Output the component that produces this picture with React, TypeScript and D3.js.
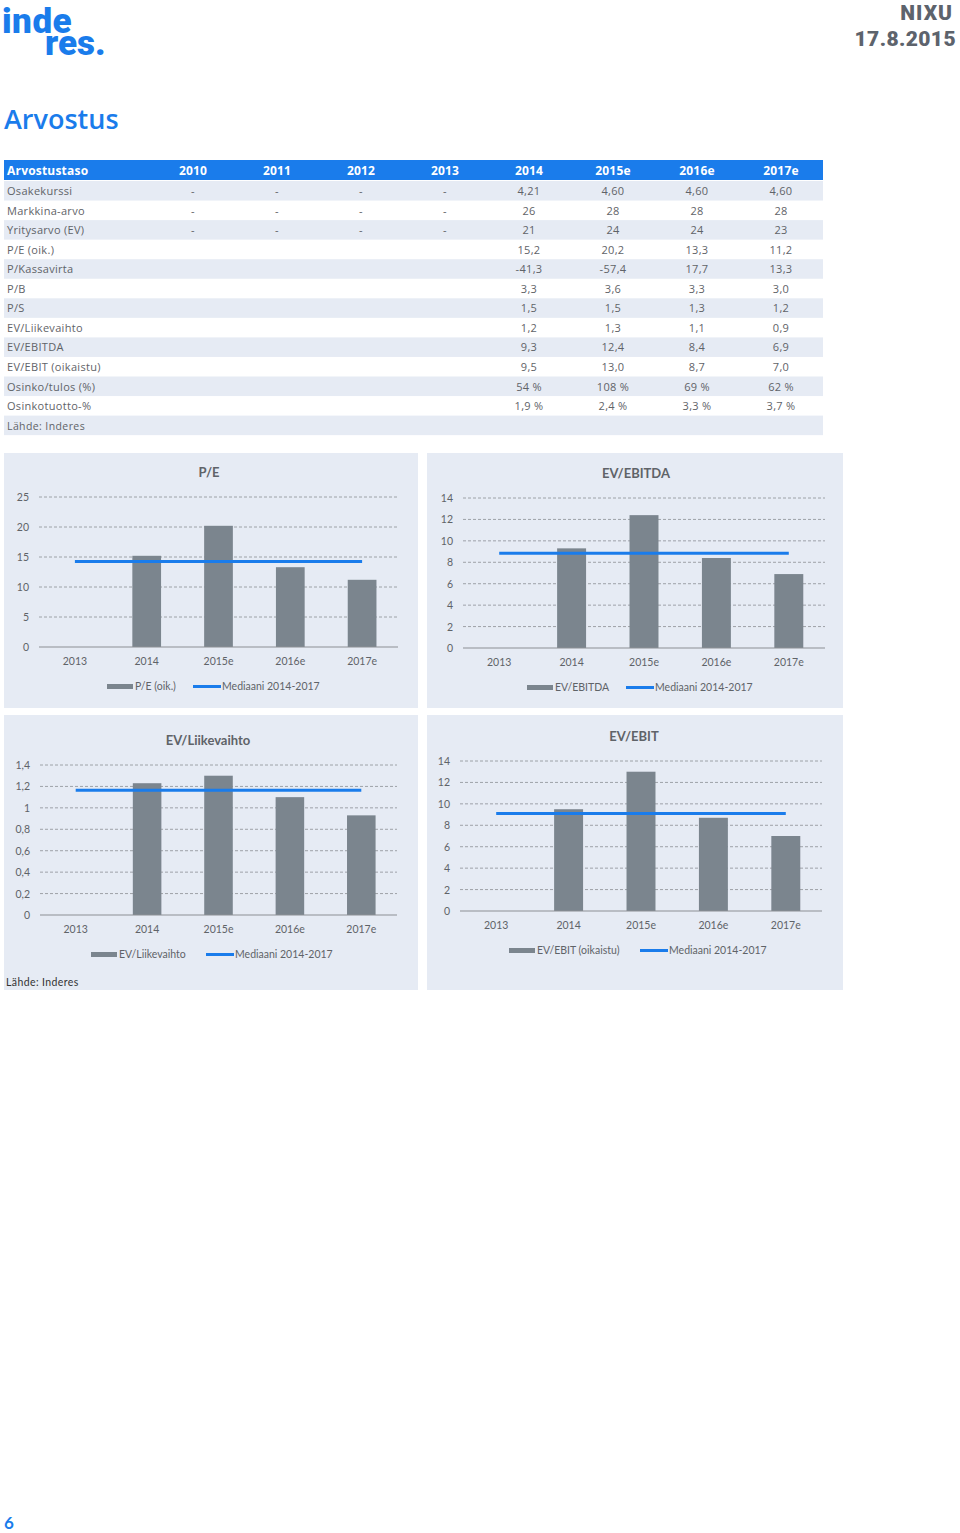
import React from "react";
import * as d3 from "d3";

// ---------- data ----------
const tableYears = ["2010", "2011", "2012", "2013", "2014", "2015e", "2016e", "2017e"];
const rowLabels = [
  "Osakekurssi",
  "Markkina-arvo",
  "Yritysarvo (EV)",
  "P/E (oik.)",
  "P/Kassavirta",
  "P/B",
  "P/S",
  "EV/Liikevaihto",
  "EV/EBITDA",
  "EV/EBIT (oikaistu)",
  "Osinko/tulos (%)",
  "Osinkotuotto-%",
];
const rowValues = [
  ["-", "-", "-", "-", "4,21", "4,60", "4,60", "4,60"],
  ["-", "-", "-", "-", "26", "28", "28", "28"],
  ["-", "-", "-", "-", "21", "24", "24", "23"],
  ["", "", "", "", "15,2", "20,2", "13,3", "11,2"],
  ["", "", "", "", "-41,3", "-57,4", "17,7", "13,3"],
  ["", "", "", "", "3,3", "3,6", "3,3", "3,0"],
  ["", "", "", "", "1,5", "1,5", "1,3", "1,2"],
  ["", "", "", "", "1,2", "1,3", "1,1", "0,9"],
  ["", "", "", "", "9,3", "12,4", "8,4", "6,9"],
  ["", "", "", "", "9,5", "13,0", "8,7", "7,0"],
  ["", "", "", "", "54 %", "108 %", "69 %", "62 %"],
  ["", "", "", "", "1,9 %", "2,4 %", "3,3 %", "3,7 %"],
];

const chartYears = ["2013", "2014", "2015e", "2016e", "2017e"];
const peValues: (number | null)[] = [null, 15.2, 20.2, 13.3, 11.2];
const evEbitdaValues: (number | null)[] = [null, 9.3, 12.4, 8.4, 6.9];
const evSalesValues: (number | null)[] = [null, 1.23, 1.3, 1.1, 0.93];
const evEbitValues: (number | null)[] = [null, 9.5, 13.0, 8.7, 7.0];
const peTicks = [0, 5, 10, 15, 20, 25];
const evEbitdaTicks = [0, 2, 4, 6, 8, 10, 12, 14];
const evSalesTicks = [0, 0.2, 0.4, 0.6, 0.8, 1, 1.2, 1.4];
const evEbitTicks = [0, 2, 4, 6, 8, 10, 12, 14];
const medianLabel = "Mediaani 2014-2017";

// ---------- style ----------
const BLUE = "#1a7ceb";
const BAR = "#7b858e";
const PANEL = "#e6ebf4";
const TEXT = "#5f6368";
const FONT = "Lato, 'Open Sans', sans-serif";
const TFONT = "'Open Sans', Lato, sans-serif";
const HEAVY = "Roboto, 'Open Sans', sans-serif";

const fmt = (v: number) => String(+v.toFixed(2)).replace(".", ",");

type ChartCfg = {
  title: string;
  seriesLabel: string;
  values: (number | null)[];
  ticks: number[];
  panel: [number, number, number, number];
  left: number;
  right: number;
  top: number;
  bottom: number;
  legendX: number;
  legendLineX: number;
  titleX: number;
};

const charts: ChartCfg[] = [
  {
    title: "P/E",
    seriesLabel: "P/E (oik.)",
    values: peValues,
    ticks: peTicks,
    panel: [4, 453, 414, 255],
    left: 39,
    right: 398,
    top: 497,
    bottom: 647,
    legendX: 107,
    legendLineX: 193,
    titleX: 209,
  },
  {
    title: "EV/EBITDA",
    seriesLabel: "EV/EBITDA",
    values: evEbitdaValues,
    ticks: evEbitdaTicks,
    panel: [427, 453, 416, 255],
    left: 463,
    right: 825,
    top: 498,
    bottom: 648,
    legendX: 527,
    legendLineX: 626,
    titleX: 636,
  },
  {
    title: "EV/Liikevaihto",
    seriesLabel: "EV/Liikevaihto",
    values: evSalesValues,
    ticks: evSalesTicks,
    panel: [4, 715, 414, 275],
    left: 40,
    right: 397,
    top: 765,
    bottom: 915,
    legendX: 91,
    legendLineX: 206,
    titleX: 208,
  },
  {
    title: "EV/EBIT",
    seriesLabel: "EV/EBIT (oikaistu)",
    values: evEbitValues,
    ticks: evEbitTicks,
    panel: [427, 715, 416, 275],
    left: 460,
    right: 822,
    top: 761,
    bottom: 911,
    legendX: 509,
    legendLineX: 640,
    titleX: 634,
  },
];

function BarChart({ c }: { c: ChartCfg }) {
  const x = d3.scaleBand<string>().domain(chartYears).range([c.left, c.right]).padding(0);
  const maxT = d3.max(c.ticks) as number;
  const y = d3.scaleLinear().domain([0, maxT]).range([c.bottom, c.top]);
  const bw = x.bandwidth() * 0.4;
  const vals = c.values.filter((v) => v != null) as number[];
  const med = d3.median(vals) as number;
  const cx = (k: string) => (x(k) as number) + x.bandwidth() / 2;
  const [px, py, pw, ph] = c.panel;
  return (
    <g>
      <rect x={px} y={py} width={pw} height={ph} fill={PANEL} />
      <text x={c.titleX} y={c.top - 20} textAnchor="middle" fontSize={13} fontWeight={700} fill={TEXT}>
        {c.title}
      </text>
      {c.ticks.map((t) => (
        <g key={t}>
          {t !== 0 && (
            <line
              x1={c.left}
              x2={c.right}
              y1={y(t)}
              y2={y(t)}
              stroke="#8c8f94"
              strokeWidth={0.8}
              strokeDasharray="3,2"
            />
          )}
          <text x={c.left - 10} y={y(t) + 4} textAnchor="end" fontSize={10.5} fill={TEXT}>
            {fmt(t)}
          </text>
        </g>
      ))}
      {chartYears.map((k, i) => {
        const v = c.values[i];
        return (
          <g key={k}>
            {v != null && (
              <rect x={cx(k) - bw / 2} y={y(v)} width={bw} height={y(0) - y(v)} fill={BAR} />
            )}
            <text x={cx(k)} y={c.bottom + 18} textAnchor="middle" fontSize={10.5} fill={TEXT}>
              {k}
            </text>
          </g>
        );
      })}
      <line x1={c.left} x2={c.right} y1={y(0)} y2={y(0)} stroke="#8c8f94" strokeWidth={1} />
      <line
        x1={cx(chartYears[0])}
        x2={cx(chartYears[chartYears.length - 1])}
        y1={y(med)}
        y2={y(med)}
        stroke={BLUE}
        strokeWidth={3}
      />
      <rect x={c.legendX} y={c.bottom + 37} width={26} height={5} fill={BAR} />
      <text x={c.legendX + 28} y={c.bottom + 43} fontSize={10.5} fill={TEXT}>
        {c.seriesLabel}
      </text>
      <line
        x1={c.legendLineX}
        x2={c.legendLineX + 28}
        y1={c.bottom + 39.5}
        y2={c.bottom + 39.5}
        stroke={BLUE}
        strokeWidth={3}
      />
      <text x={c.legendLineX + 29} y={c.bottom + 43} fontSize={10.5} fill={TEXT}>
        {medianLabel}
      </text>
    </g>
  );
}

export default function App() {
  const colX = d3
    .scalePoint<string>()
    .domain(tableYears)
    .range([193, 781]);
  const headerY = 160;
  const headerH = 20;
  const rowH = 19.55;
  const rows = rowLabels.length;
  return (
    <div style={{ position: "absolute", left: 0, top: 0, width: 960, height: 1533, background: "#fff" }}>
      <svg width={960} height={1533} style={{ display: "block", fontFamily: FONT }}>
        {/* logo */}
        <text x={2} y={33} fontSize={35} fontWeight={900} fill={BLUE} letterSpacing={0.5} fontFamily={HEAVY}>
          inde
        </text>
        <text x={45} y={55} fontSize={35} fontWeight={900} fill={BLUE} letterSpacing={0} fontFamily={HEAVY}>
          res.
        </text>
        {/* company / date */}
        <text x={953} y={20} textAnchor="end" fontSize={21} fontWeight={900} fill="#5d636c" letterSpacing={1} fontFamily={HEAVY}>
          NIXU
        </text>
        <text x={956} y={46} textAnchor="end" fontSize={21} fontWeight={900} fill="#5d636c" letterSpacing={0.4} fontFamily={HEAVY}>
          17.8.2015
        </text>
        {/* section title */}
        <text x={4} y={129} fontSize={27} fontWeight={600} fill={BLUE} fontFamily={TFONT}>
          Arvostus
        </text>

        {/* table */}
        <g fontFamily={TFONT}>
          <rect x={4} y={headerY} width={819} height={headerH} fill={BLUE} />
          <text x={7} y={headerY + 14.5} fontSize={12} fontWeight={700} fill="#fff" letterSpacing={0.2}>
            Arvostustaso
          </text>
          {tableYears.map((yr) => (
            <text
              key={yr}
              x={colX(yr)}
              y={headerY + 14.5}
              textAnchor="middle"
              fontSize={12}
              fontWeight={700}
              fill="#fff"
              letterSpacing={0.2}
            >
              {yr}
            </text>
          ))}
          {rowLabels.map((lab, i) => {
            const ry = headerY + headerH + 1 + i * rowH;
            return (
              <g key={lab}>
                {i % 2 === 0 && <rect x={4} y={ry} width={819} height={rowH} fill={PANEL} />}
                <text x={7} y={ry + 14} fontSize={11} fill={TEXT} letterSpacing={0.3}>
                  {lab}
                </text>
                {rowValues[i].map((v, j) => (
                  <text
                    key={j}
                    x={colX(tableYears[j])}
                    y={ry + 14}
                    textAnchor="middle"
                    fontSize={11}
                    fill={TEXT}
                    letterSpacing={0.3}
                  >
                    {v}
                  </text>
                ))}
              </g>
            );
          })}
          <rect x={4} y={headerY + headerH + 1 + rows * rowH} width={819} height={rowH} fill={PANEL} />
          <text x={7} y={headerY + headerH + 1 + rows * rowH + 14} fontSize={10.5} fill={TEXT} letterSpacing={0.4}>
            Lähde: Inderes
          </text>
        </g>

        {/* charts */}
        {charts.map((c) => (
          <BarChart key={c.title} c={c} />
        ))}
        <text x={6} y={986} fontSize={10.5} fill="#333" letterSpacing={0.4}>
          Lähde: Inderes
        </text>

        {/* page number */}
        <text x={4} y={1529} fontSize={17} fontWeight={700} fill={BLUE}>
          6
        </text>
      </svg>
    </div>
  );
}
